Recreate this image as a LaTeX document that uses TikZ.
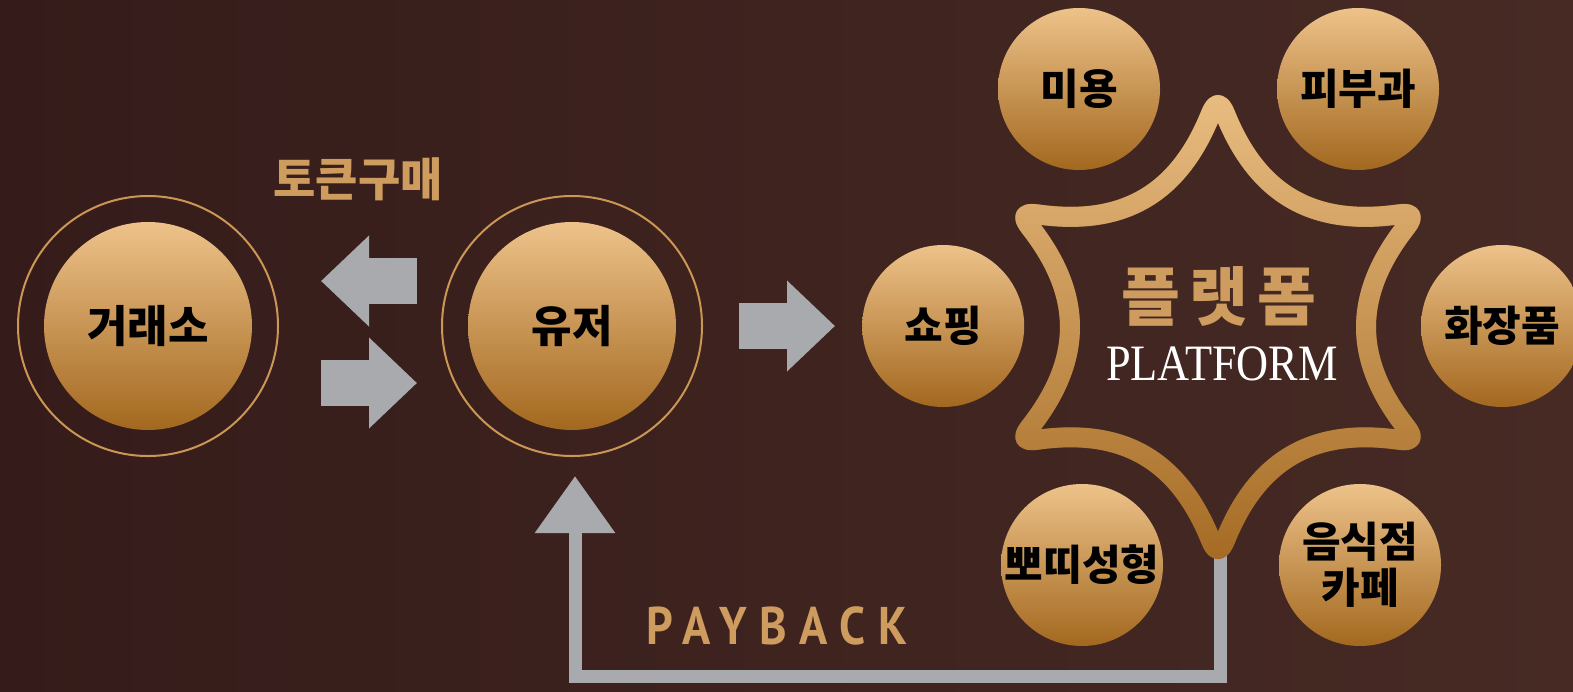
\documentclass[tikz,border=0pt]{standalone}
\usepackage{fontspec}
\usetikzlibrary{positioning,arrows.meta,fadings,calc}
\newfontfamily\krfont{Noto Sans CJK KR}
\newfontfamily\platfont{Liberation Serif}[FakeStretch=0.87]
\newfontfamily\payfont{PT Sans}[FakeStretch=0.88,LetterSpace=24]
\definecolor{bgleft}{HTML}{351C1A}
\definecolor{bgright}{HTML}{472A24}
\definecolor{balltop}{HTML}{EDC28A}
\definecolor{ballbottom}{HTML}{A3681F}
\definecolor{ringgold}{HTML}{CC9755}
\definecolor{goldlight}{HTML}{E9BD82}
\definecolor{golddark}{HTML}{A56B24}
\definecolor{goldtext}{HTML}{CF9C5F}
\definecolor{arrowgray}{HTML}{A8AAAE}
\tikzfading[name=goldfade, top color=transparent!0, bottom color=transparent!100]

\begin{document}
\begin{tikzpicture}[x=1pt,y=-1pt]
\tikzset{
    ring/.style={circle, draw=ringgold, line width=2pt, minimum size=260pt, inner sep=0pt},
    bigball/.style={circle, top color=balltop, bottom color=ballbottom, minimum size=208pt, inner sep=0pt, font=\krfont\bfseries\fontsize{44}{48}\selectfont},
    ball/.style={circle, top color=balltop, bottom color=ballbottom, minimum size=162pt, inner sep=0pt, align=center, font=\krfont\bfseries\fontsize{42}{46}\selectfont},
    blockarrow/.style={line width=46pt, color=arrowgray, -{Triangle[length=48pt,width=88pt]}},
    payback/.style={line width=13pt, color=arrowgray, -{Triangle[length=57pt,width=77pt]}},
    starline/.style={line width=20pt, line join=round},
    goldlabel/.style={text=goldtext, inner sep=0pt}
}
\clip (0,0) rectangle (1573,691);
\shade[left color=bgleft, right color=bgright] (0,0) rectangle (1573,691);

\node[ring] (exring) at (148,326) {};
\node[bigball] (exchange) at (exring) {거래소};
\node[ring, right=162pt of exring] (userring) {};
\node[bigball] (user) at (userring) {유저};
\node[ball, right=159pt of userring] (shop) {쇼핑};

\coordinate (starc) at (1218,327);
\coordinate (starfoot) at (1220,545);
\coordinate (pbbase) at (0,676);
\draw[payback, shorten >=19pt] (starfoot) -- (starfoot |- pbbase) -| ([xshift=3pt]userring.south);

\draw[starline, draw=golddark] ($(starc)+(90:231)+(292:20)$) \foreach \a in {90,150,...,390} { .. controls ($(starc)+(\a:231)+(\a+202:6)$) and ($(starc)+(\a:231)+(\a+158:6)$) .. ($(starc)+(\a:231)+(\a+158:20)$) .. controls ($(starc)+(\a:231)+(\a+158:106)$) and ($(starc)+(\a+60:231)+(\a+262:106)$) .. ($(starc)+(\a+60:231)+(\a+262:20)$) } -- cycle;
\draw[starline, draw=goldlight, path fading=goldfade] ($(starc)+(90:231)+(292:20)$) \foreach \a in {90,150,...,390} { .. controls ($(starc)+(\a:231)+(\a+202:6)$) and ($(starc)+(\a:231)+(\a+158:6)$) .. ($(starc)+(\a:231)+(\a+158:20)$) .. controls ($(starc)+(\a:231)+(\a+158:106)$) and ($(starc)+(\a+60:231)+(\a+262:106)$) .. ($(starc)+(\a+60:231)+(\a+262:20)$) } -- cycle;

\node[ball] (beauty) at (1079,89) {미용};
\node[ball] (skin) at (1358,89) {피부과};
\node[ball] (cosmetic) at (1502,326) {화장품};
\node[ball] (surgery) at (1082,565) {뽀띠성형};
\node[ball] (food) at (1360,565) {음식점\\카페};

\draw[blockarrow, shorten <=24pt, shorten >=42pt] ([yshift=45pt]userring.west) -- ([yshift=45pt]exring.east);
\draw[blockarrow, shorten <=42pt, shorten >=24pt] ([yshift=-57pt]exring.east) -- ([yshift=-57pt]userring.west);
\draw[blockarrow, shorten <=36pt, shorten >=27pt] (userring.east) -- (shop.west);

\node[goldlabel, font=\krfont\bfseries\fontsize{46}{50}\selectfont] (buylabel) at (358,179) {토큰구매};
\node[goldlabel, font=\krfont\bfseries\fontsize{64}{68}\selectfont] (platko) at (1219,296) {플\hspace{9pt}랫\hspace{9pt}폼};
\node[text=white, inner sep=0pt, font=\platfont\fontsize{51}{55}\selectfont] (platen) at (1222,364) {PLATFORM};
\node[goldlabel, font=\payfont\bfseries\fontsize{53}{57}\selectfont] (paylabel) at (777,626) {PAYBACK};
\end{tikzpicture}
\end{document}
